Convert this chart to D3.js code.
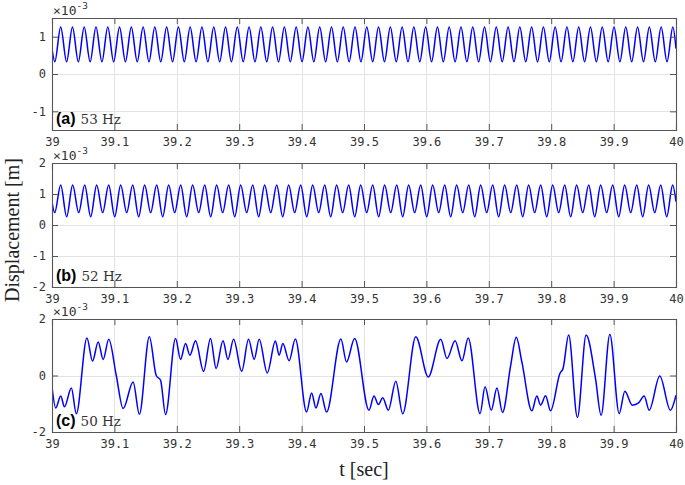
<!DOCTYPE html>
<html>
<head>
<meta charset="utf-8">
<script src="https://cdn.jsdelivr.net/npm/d3@7"></script>
<style>
body { margin: 0; background: #fff; }
svg { display: block; }
</style>
</head>
<body>
<div id="chart"></div>
<script>
// ---- data (displacement in units of 1e-3 m, time as seconds after 39 s) ----
var xTickValues = [39, 39.1, 39.2, 39.3, 39.4, 39.5, 39.6, 39.7, 39.8, 39.9, 40]
var xTickLabels = ["39", "39.1", "39.2", "39.3", "39.4", "39.5", "39.6", "39.7", "39.8", "39.9", "40"]
var panelLetters = ["(a)", "(b)", "(c)"]
var panelFreqs = ["53 Hz", "52 Hz", "50 Hz"]
var yDomains = [[-1.5, 1.5], [-2, 2], [-2, 2]]
var yTickValues = [[-1, 0, 1], [-2, -1, 0, 1, 2], [-2, 0, 2]]

// (a) 53 Hz: times of crests and troughs
var peaks53 = [0.0139, 0.0328, 0.0516, 0.0705, 0.0894, 0.1082, 0.1271, 0.1460, 0.1648, 0.1837,
	0.2026, 0.2214, 0.2403, 0.2592, 0.2781, 0.2969, 0.3158, 0.3347, 0.3535, 0.3724,
	0.3913, 0.4101, 0.4290, 0.4479, 0.4667, 0.4856, 0.5045, 0.5233, 0.5422, 0.5611,
	0.5799, 0.5988, 0.6177, 0.6365, 0.6554, 0.6743, 0.6931, 0.7120, 0.7309, 0.7497,
	0.7686, 0.7875, 0.8063, 0.8252, 0.8441, 0.8629, 0.8818, 0.9007, 0.9195, 0.9384,
	0.9573, 0.9762, 0.9950]
var troughs53 = [0.0045, 0.0234, 0.0422, 0.0611, 0.0800, 0.0988, 0.1177, 0.1366, 0.1554, 0.1743,
	0.1932, 0.2120, 0.2309, 0.2498, 0.2687, 0.2875, 0.3064, 0.3253, 0.3441, 0.3630,
	0.3819, 0.4007, 0.4196, 0.4385, 0.4573, 0.4762, 0.4951, 0.5139, 0.5328, 0.5517,
	0.5705, 0.5894, 0.6083, 0.6271, 0.6460, 0.6649, 0.6837, 0.7026, 0.7215, 0.7403,
	0.7592, 0.7781, 0.7969, 0.8158, 0.8347, 0.8535, 0.8724, 0.8913, 0.9101, 0.9290,
	0.9479, 0.9668, 0.9856]
var peakLevel53 = 1.26
var troughLevel53 = 0.33
var ends53 = [0.68, 0.68]

// (b) 52 Hz: troughs alternate shallow / deep
var peaks52 = [0.0139, 0.0331, 0.0524, 0.0716, 0.0908, 0.1101, 0.1293, 0.1485, 0.1677, 0.1870,
	0.2062, 0.2254, 0.2447, 0.2639, 0.2831, 0.3024, 0.3216, 0.3408, 0.3601, 0.3793,
	0.3985, 0.4178, 0.4370, 0.4562, 0.4754, 0.4947, 0.5139, 0.5331, 0.5524, 0.5716,
	0.5908, 0.6101, 0.6293, 0.6485, 0.6678, 0.6870, 0.7062, 0.7254, 0.7447, 0.7639,
	0.7831, 0.8024, 0.8216, 0.8408, 0.8601, 0.8793, 0.8985, 0.9178, 0.9370, 0.9562,
	0.9755, 0.9947]
var troughs52 = [0.0043, 0.0235, 0.0428, 0.0620, 0.0812, 0.1005, 0.1197, 0.1389, 0.1581, 0.1774,
	0.1966, 0.2158, 0.2351, 0.2543, 0.2735, 0.2928, 0.3120, 0.3312, 0.3505, 0.3697,
	0.3889, 0.4082, 0.4274, 0.4466, 0.4658, 0.4851, 0.5043, 0.5235, 0.5428, 0.5620,
	0.5812, 0.6005, 0.6197, 0.6389, 0.6582, 0.6774, 0.6966, 0.7158, 0.7351, 0.7543,
	0.7735, 0.7928, 0.8120, 0.8312, 0.8505, 0.8697, 0.8889, 0.9082, 0.9274, 0.9466,
	0.9659, 0.9851]
var troughLevels52 = [0.40, 0.27, 0.40, 0.27, 0.40, 0.27, 0.40, 0.27, 0.40, 0.27,
	0.40, 0.27, 0.40, 0.27, 0.40, 0.27, 0.40, 0.27, 0.40, 0.27,
	0.40, 0.27, 0.40, 0.27, 0.40, 0.27, 0.40, 0.27, 0.40, 0.27,
	0.40, 0.27, 0.40, 0.27, 0.40, 0.27, 0.40, 0.27, 0.40, 0.27,
	0.40, 0.27, 0.40, 0.27, 0.40, 0.27, 0.40, 0.27, 0.40, 0.27,
	0.40, 0.27]
var peakLevel52 = 1.29
var ends52 = [0.75, 0.75]

// (c) 50 Hz: [time, value] at each turning point / shoulder
var trace50 = [[0.000, -0.40], [0.006, -1.15], [0.014, -0.73], [0.020, -1.11], [0.031, -0.44],
	[0.039, -1.35], [0.056, 1.33], [0.065, 0.51], [0.074, 1.19], [0.082, 0.57],
	[0.091, 1.28], [0.103, 0.00], [0.114, -1.17], [0.130, -0.23], [0.140, -1.37],
	[0.156, 1.37], [0.167, 0.00], [0.174, -0.17], [0.182, -1.38], [0.198, 1.31],
	[0.206, 0.57], [0.214, 1.13], [0.221, 0.72], [0.230, 1.23], [0.243, 0.15],
	[0.254, 1.31], [0.263, 0.25], [0.274, 1.23], [0.282, 0.57], [0.291, 1.28],
	[0.304, 0.15], [0.315, 1.28], [0.324, 0.57], [0.332, 1.28], [0.345, 0.09],
	[0.358, 1.22], [0.364, 0.72], [0.370, 1.13], [0.380, 0.52], [0.390, 1.29],
	[0.408, -1.29], [0.416, -0.62], [0.423, -1.15], [0.431, -0.64], [0.440, -1.29],
	[0.463, 1.29], [0.472, 0.48], [0.485, 1.31], [0.508, -1.23], [0.516, -0.73],
	[0.523, -1.03], [0.530, -0.79], [0.539, -1.23], [0.551, -0.20], [0.562, -1.35],
	[0.583, 1.37], [0.603, -0.05], [0.623, 1.28], [0.633, 0.60], [0.646, 1.23],
	[0.657, 0.52], [0.667, 1.33], [0.686, -1.35], [0.694, -0.40], [0.704, -1.23],
	[0.713, -0.44], [0.722, -1.31], [0.735, 0.35], [0.744, 1.35], [0.753, 0.48],
	[0.769, -1.25], [0.777, -0.73], [0.783, -1.05], [0.791, -0.72], [0.799, -1.25],
	[0.814, 0.07], [0.819, 0.25], [0.828, 1.43], [0.842, -1.49], [0.856, 1.43],
	[0.871, -0.11], [0.880, -1.41], [0.894, 1.45], [0.909, -1.35], [0.918, -0.56],
	[0.930, -1.05], [0.940, -0.97], [0.949, -0.73], [0.957, -1.23], [0.974, -0.02],
	[0.991, -1.23], [1.000, -0.70]]

// ---- build point lists ----
function buildTrace(peaks, peakLevels, troughs, troughLevels, ends) {
	var pts = [[0, ends[0]], [1, ends[1]]]
	peaks.forEach(function(t, i) { pts.push([t, Array.isArray(peakLevels) ? peakLevels[i] : peakLevels]) })
	troughs.forEach(function(t, i) { pts.push([t, Array.isArray(troughLevels) ? troughLevels[i] : troughLevels]) })
	pts.sort(function(a, b) { return a[0] - b[0] })
	return pts
}
var traces = [
	buildTrace(peaks53, peakLevel53, troughs53, troughLevel53, ends53),
	buildTrace(peaks52, peakLevel52, troughs52, troughLevels52, ends52),
	trace50
]

// ---- layout ----
var width = 685, height = 485
var left = 52, right = 676
var boxes = [[18, 130], [163, 287], [319, 432]]  // top, bottom of each axes
var tickLen = 6
var axisColor = "#555"
var textColor = "#333"
var gridColor = "#e3e3e3"
var monoFont = "'DejaVu Sans Mono', monospace"
var serifFont = "'Liberation Serif', 'DejaVu Serif', serif"

var svg = d3.select("#chart").append("svg")
	.attr("width", width)
	.attr("height", height)

var x = d3.scaleLinear().domain([39, 40]).range([left, right])

traces.forEach(function(data, p) {
	var top = boxes[p][0], bottom = boxes[p][1]
	var y = d3.scaleLinear().domain(yDomains[p]).range([bottom, top])
	var g = svg.append("g")

	g.append("clipPath").attr("id", "clip" + p)
		.append("rect")
		.attr("x", left).attr("y", top)
		.attr("width", right - left).attr("height", bottom - top)

	// grid
	g.selectAll(".vgrid").data(xTickValues.slice(1, -1)).enter().append("line")
		.attr("x1", function(d) { return Math.round(x(d)) + 0.5 })
		.attr("x2", function(d) { return Math.round(x(d)) + 0.5 })
		.attr("y1", top).attr("y2", bottom)
		.attr("stroke", gridColor).attr("stroke-width", 1)
	g.selectAll(".hgrid").data(yTickValues[p]).enter().append("line")
		.attr("x1", left).attr("x2", right)
		.attr("y1", function(d) { return Math.round(y(d)) + 0.5 })
		.attr("y2", function(d) { return Math.round(y(d)) + 0.5 })
		.attr("stroke", gridColor).attr("stroke-width", 1)

	// signal
	var line = d3.line()
		.x(function(d) { return x(39 + d[0]) })
		.y(function(d) { return y(d[1]) })
		.curve(d3.curveMonotoneX)
	g.append("path")
		.datum(data)
		.attr("clip-path", "url(#clip" + p + ")")
		.attr("fill", "none")
		.attr("stroke", "#0000ff")
		.attr("stroke-width", 1.5)
		.attr("d", line)

	// axes with inward ticks on all four sides
	var xAxisB = d3.axisBottom(x).tickValues(xTickValues).tickSize(-tickLen).tickPadding(7)
		.tickFormat(function(d, i) { return xTickLabels[i] })
	var xAxisT = d3.axisTop(x).tickValues(xTickValues).tickSize(-tickLen).tickFormat("")
	var yAxisL = d3.axisLeft(y).tickValues(yTickValues[p]).tickSize(-tickLen).tickPadding(6)
		.tickFormat(function(d) { return String(d) })
	var yAxisR = d3.axisRight(y).tickValues(yTickValues[p]).tickSize(-tickLen).tickFormat("")

	var axes = [
		g.append("g").attr("transform", "translate(0," + bottom + ")").call(xAxisB),
		g.append("g").attr("transform", "translate(0," + top + ")").call(xAxisT),
		g.append("g").attr("transform", "translate(" + left + ",0)").call(yAxisL),
		g.append("g").attr("transform", "translate(" + right + ",0)").call(yAxisR)
	]
	axes.forEach(function(a) {
		a.select(".domain").attr("stroke", axisColor).attr("stroke-width", 1.1)
		a.selectAll(".tick line").attr("stroke", axisColor)
		a.selectAll("text").attr("fill", textColor)
			.style("font-family", monoFont).style("font-size", "12px")
	})

	// exponent label
	var ex = g.append("text")
		.attr("x", left + 1).attr("y", top - 3)
		.attr("fill", textColor)
		.style("font-family", monoFont).style("font-size", "13px")
	ex.append("tspan").text("\u00d710")
	ex.append("tspan").attr("dy", -6).style("font-size", "9.5px").text("-3")

	// panel tag
	var tag = g.append("text")
		.attr("x", left + 4).attr("y", bottom - 6)
		.attr("fill", "#000")
	tag.append("tspan")
		.style("font-family", "'Liberation Sans', Arial, sans-serif")
		.style("font-weight", "bold").style("font-size", "16px")
		.text(panelLetters[p])
	tag.append("tspan")
		.attr("dx", 5)
		.attr("fill", textColor)
		.style("font-family", "'DejaVu Serif', serif").style("font-size", "13.5px")
		.text(panelFreqs[p])
})

// axis titles
svg.append("text")
	.attr("transform", "translate(19," + 230 + ") rotate(-90)")
	.attr("text-anchor", "middle")
	.attr("fill", "#222")
	.style("font-family", serifFont).style("font-size", "20px")
	.text("Displacement [m]")

svg.append("text")
	.attr("x", (left + right) / 2).attr("y", 476)
	.attr("text-anchor", "middle")
	.attr("fill", "#222")
	.style("font-family", serifFont).style("font-size", "20px")
	.text("t [sec]")
</script>
</body>
</html>
